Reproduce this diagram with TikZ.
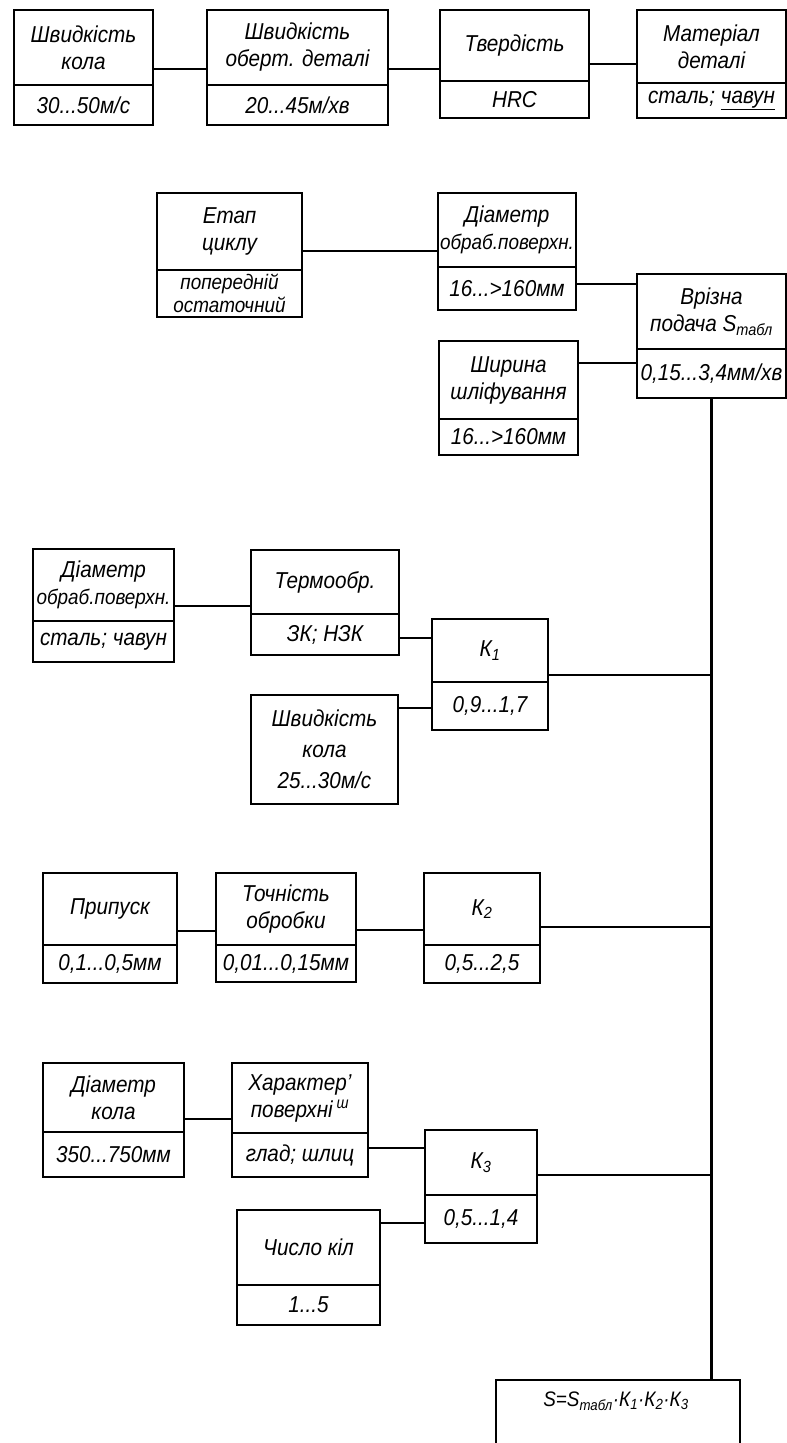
\documentclass[tikz,border=0pt]{standalone}
\usepackage{fontspec}
\setmainfont{Liberation Sans}[FakeStretch=0.9]
\usetikzlibrary{fit}
\tikzset{
  box/.style={draw, line width=2pt, inner sep=0pt},
  divline/.style={line width=2pt},
  lbl/.style={font=\fontsize{23}{27}\selectfont\itshape, align=center, inner sep=0pt},
  conn/.style={line width=1.7pt},
  heavy/.style={line width=2.8pt},
}
\newcommand\tbox[8]{%
  \coordinate (#1-nw) at (#2,#3);
  \coordinate (#1-se) at (#4,#5);
  \node[box, fit=(#1-nw)(#1-se)] (#1) {};
  \draw[divline] (#1.west |- 0,#6) -- (#1.east |- 0,#6);
  \node[lbl] (#1-t) at ({(#2+#4)/2},{(#3+#6)/2}) {#7};
  \node[lbl] (#1-b) at ({(#2+#4)/2},{(#6+#5)/2}) {#8};
}
\newcommand\hconn[4][conn]{%
  \draw[#1] (#2.east |- 0,#4) -- (#3.west |- 0,#4);
}
\newcommand\narrowtxt[1]{{\fontsize{21}{27}\selectfont #1}}
\begin{document}
\begin{tikzpicture}[x=1pt,y=-1pt]
\useasboundingbox[fill=white] (0,0) rectangle (787,1443);
% row 1
\tbox{A}{14}{10}{153}{125}{85}{Швидкість\\кола}{30...50м/с}
\tbox{B}{207}{10}{388}{125}{85}{Швидкість\\оберт. деталі}{20...45м/хв}
\tbox{C}{440}{10}{589}{118}{81}{Твердість}{HRC}
\tbox{D}{637}{10}{786}{118}{83}{Матеріал\\деталі}{сталь; \underline{чавун}}
\hconn{A}{B}{69}
\hconn{B}{C}{69}
\hconn{C}{D}{64}
% row 2
\tbox{E}{157}{193}{302}{317}{270}{Етап\\циклу}{\narrowtxt{попередній}\\[-4pt]\narrowtxt{остаточний}}
\tbox{F}{438}{193}{576}{310}{267}{Діаметр\\\narrowtxt{обраб.поверхн.}}{16...>160мм}
\tbox{G}{637}{274}{786}{398}{349}{Врізна\\подача S\textsubscript{табл}}{0,15...3,4мм/хв}
\tbox{H}{439}{341}{578}{455}{419}{Ширина\\шліфування}{16...>160мм}
\hconn[heavy]{E}{F}{251}
\hconn[heavy]{F}{G}{284}
\hconn{H}{G}{363}
% row 3
\tbox{I}{33}{549}{174}{662}{621}{Діаметр\\\narrowtxt{обраб.поверхн.}}{сталь; чавун}
\tbox{J}{251}{550}{399}{655}{614}{Термообр.}{ЗК; НЗК}
\tbox{K1}{432}{619}{548}{730}{682}{К\textsubscript{1}}{0,9...1,7}
\coordinate (L-nw) at (251,695);
\coordinate (L-se) at (398,804);
\node[box, fit=(L-nw)(L-se)] (L) {};
\node[lbl, font=\fontsize{23}{31}\selectfont\itshape] (L-t) at (L) {Швидкість\\кола\\25...30м/с};
\hconn{I}{J}{606}
\hconn{J}{K1}{638}
\hconn{L}{K1}{708}
% row 4
\tbox{M}{43}{873}{177}{983}{945}{Припуск}{0,1...0,5мм}
\tbox{N}{216}{873}{356}{982}{945}{Точність\\обробки}{0,01...0,15мм}
\tbox{K2}{424}{873}{540}{983}{945}{К\textsubscript{2}}{0,5...2,5}
\hconn{M}{N}{931}
\hconn{N}{K2}{930}
% row 5
\tbox{P}{43}{1063}{184}{1177}{1132}{Діаметр\\кола}{350...750мм}
\tbox{Q}{232}{1063}{368}{1177}{1133}{Характер'\\поверхні\,\textsuperscript{ш}}{глад; шлиц}
\tbox{K3}{425}{1130}{537}{1243}{1195}{К\textsubscript{3}}{0,5...1,4}
\tbox{R}{237}{1210}{380}{1325}{1285}{Число кіл}{1...5}
\hconn[heavy]{P}{Q}{1119}
\hconn{Q}{K3}{1148}
\hconn{R}{K3}{1223}
% final
\coordinate (S-nw) at (496,1380);
\coordinate (S-se) at (740,1470);
\node[box, fit=(S-nw)(S-se)] (S) {};
\node[lbl, font=\fontsize{21}{24}\selectfont\itshape] (S-t) at (616,1401) {S=S\textsubscript{табл}·К\textsubscript{1}·К\textsubscript{2}·К\textsubscript{3}};
% trunk
\coordinate (tr) at (G.south);
\draw[heavy] (G.south) -- (S.north -| tr);
\draw[conn] (K1.east |- 0,675) -- (tr |- 0,675);
\draw[heavy] (K2.east |- 0,927) -- (tr |- 0,927);
\draw[conn] (K3.east |- 0,1175) -- (tr |- 0,1175);
\end{tikzpicture}
\end{document}
